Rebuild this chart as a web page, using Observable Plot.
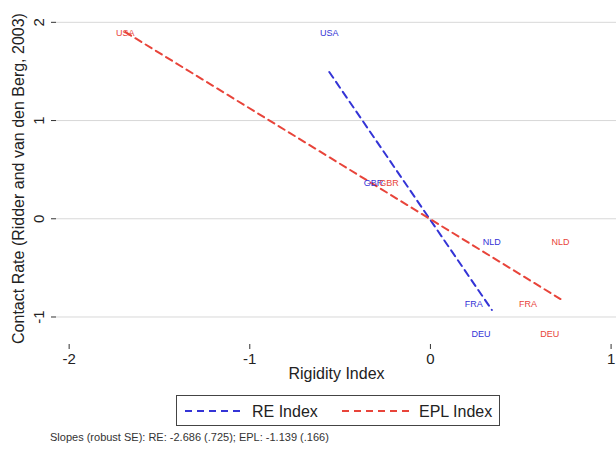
<!DOCTYPE html>
<html>
<head>
<meta charset="utf-8">
<script src="https://cdn.jsdelivr.net/npm/d3@7"></script>
<script src="https://cdn.jsdelivr.net/npm/@observablehq/plot@0.6"></script>
<style>
  body { margin: 0; background: #fff; font-family: "Liberation Sans", Arial, sans-serif; }
  #wrap { position: relative; width: 616px; height: 451px; overflow: hidden; }
  #legend { position: absolute; left: 176px; top: 395px; width: 324px; height: 31px; border: 1px solid #444; box-sizing: border-box; }
  #caption { position: absolute; left: 50px; top: 431px; font-size: 11px; color: #333; white-space: nowrap; }
</style>
</head>
<body>
<div id="wrap">
  <div id="chart"></div>
  <div id="legend"></div>
  <div id="caption">Slopes (robust SE): RE: -2.686 (.725); EPL: -1.139 (.166)</div>
</div>
<script>
const countries = ["USA", "GBR", "NLD", "FRA", "DEU"];
const contactRate = [1.89, 0.36, -0.235, -0.87, -1.17];
const reIndex = [-0.56, -0.315, 0.34, 0.24, 0.28];
const eplIndex = [-1.69, -0.23, 0.72, 0.54, 0.66];
const xTicks = [-2, -1, 0, 1];
const yTicks = [-1, 0, 1, 2];
const seriesNames = ["RE Index", "EPL Index"];
const seriesColors = ["#3434d6", "#e8443a"];

const reData = countries.map((c, i) => ({country: c, x: reIndex[i], y: contactRate[i]}));
const eplData = countries.map((c, i) => ({country: c, x: eplIndex[i], y: contactRate[i]}));
const fmt = d => String(d);

const chart = Plot.plot({
  width: 616,
  height: 392,
  marginLeft: 56,
  marginRight: 0,
  marginTop: 12,
  marginBottom: 48,
  style: {fontFamily: "Liberation Sans, Arial, sans-serif", background: "#fff", overflow: "visible"},
  x: {domain: [-2.07, 1.03], ticks: xTicks, line: true, tickSize: 5, label: null, tickFormat: fmt},
  y: {domain: [-1.28, 2.1], ticks: yTicks, line: true, tickSize: 5, label: null, tickFormat: fmt},
  marks: [
    Plot.gridY(yTicks, {stroke: "#d8d8d8", strokeOpacity: 1, strokeWidth: 1}),
    Plot.axisX(xTicks, {tickSize: 5, fontSize: 15, tickPadding: 4, stroke: "#333", fill: "#222", label: null, tickFormat: fmt}),
    Plot.axisY(yTicks, {tickSize: 5, fontSize: 15, tickRotate: -90, tickPadding: 8, stroke: "#333", fill: "#222", label: null, tickFormat: fmt}),
    Plot.linearRegressionY(reData, {x: "x", y: "y", ci: 0, stroke: seriesColors[0], strokeWidth: 2, strokeDasharray: "7,5"}),
    Plot.linearRegressionY(eplData, {x: "x", y: "y", ci: 0, stroke: seriesColors[1], strokeWidth: 2, strokeDasharray: "7,5"}),
    Plot.text(reData, {x: "x", y: "y", text: "country", fill: seriesColors[0], fontSize: 9}),
    Plot.text(eplData, {x: "x", y: "y", text: "country", fill: seriesColors[1], fontSize: 9}),
    Plot.text(["Rigidity Index"], {frameAnchor: "bottom", dy: 34, text: d => d, fontSize: 16, fill: "#222"}),
    Plot.text(["Contact Rate (Ridder and van den Berg, 2003)"], {frameAnchor: "left", dx: -38, rotate: -90, textAnchor: "middle", text: d => d, fontSize: 16, fill: "#222"})
  ]
});
document.getElementById("chart").appendChild(chart);

// legend
const lg = d3.select("#legend").append("svg").attr("width", 322).attr("height", 29);
const items = [{x0: 8, x1: 67, tx: 75}, {x0: 165, x1: 232, tx: 242}];
seriesNames.forEach((name, i) => {
  lg.append("line").attr("x1", items[i].x0).attr("x2", items[i].x1).attr("y1", 15).attr("y2", 15)
    .attr("stroke", seriesColors[i]).attr("stroke-width", 2).attr("stroke-dasharray", "7,5");
  lg.append("text").attr("x", items[i].tx).attr("y", 21).text(name)
    .attr("font-size", 16).attr("fill", "#222").attr("font-family", "Liberation Sans, Arial, sans-serif");
});
</script>
</body>
</html>
